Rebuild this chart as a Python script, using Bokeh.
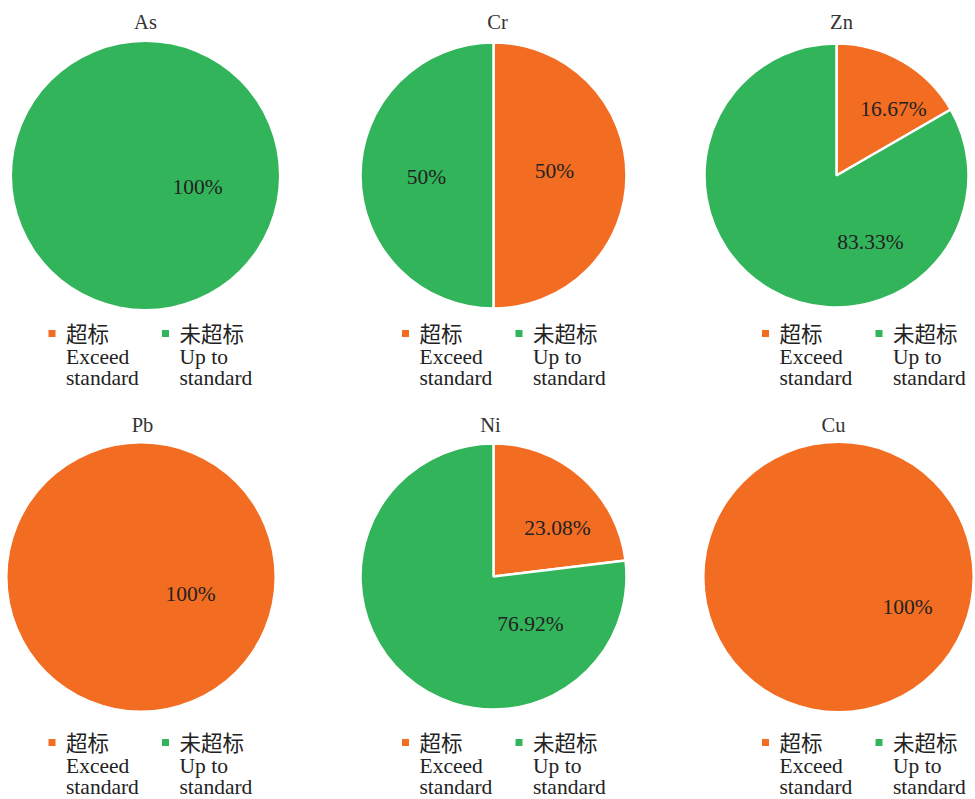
import math
from bokeh.plotting import figure
from bokeh.models import Range1d
from bokeh.core.properties import value
from bokeh.embed import file_html
from bokeh.resources import INLINE

# ---------------- data ----------------
elements = ["As", "Cr", "Zn", "Pb", "Ni", "Cu"]
exceed_pct = [0, 50, 16.67, 100, 23.08, 100]      # 超标 Exceed standard
upto_pct = [100, 50, 83.33, 0, 76.92, 0]          # 未超标 Up to standard
cat_cn = ["超标", "未超标"]
cat_en = [["Exceed", "standard"], ["Up to", "standard"]]

# ---------------- styles / layout ----------------
colors = ["#F26D22", "#32B45A"]
W, H = 975, 799
SERIF = "'Liberation Serif', serif"
CJK = "'Noto Sans CJK SC', sans-serif"
centers = [(145, 175), (493, 175), (836, 175), (140.5, 576.5), (493, 576), (838, 576.5)]
radii = [133.5, 133, 132, 133.5, 133, 134]
title_xy = [(145, 21), (497, 21), (841, 21), (142, 424), (490, 424), (833, 424)]
# label offsets (relative to pie centre), one per category
label_off = [
    [None, (52, 11)],
    [(61, -5), (-67, 1)],
    [(57, -67), (34, 66)],
    [(49.5, 16.5), None],
    [(64, -49), (37, 47)],
    [(69, 29.5), None],
]
legend_sq_x = [51.5, 405, 765, 51.5, 405, 765]
legend_y = [333, 333, 333, 742, 742, 742]
legend_gap = 113.5


def Y(y):
    return H - y


p = figure(width=W, height=H, output_backend="svg", toolbar_location=None,
           x_range=Range1d(0, W), y_range=Range1d(0, H), min_border=0)
p.axis.visible = False
p.grid.visible = False
p.outline_line_color = None
p.background_fill_color = "white"
p.border_fill_color = "white"

wx, wy, wr, ws, we, wc = [], [], [], [], [], []
fx, fy, fr, fc = [], [], [], []
tx, ty, tt = [], [], []
for i, el in enumerate(elements):
    cx, cy = centers[i]
    r = radii[i]
    vals = [exceed_pct[i], upto_pct[i]]
    total = sum(vals)
    cum = 0.0
    for k, v in enumerate(vals):
        if v <= 0:
            continue
        frac = v / total
        if frac >= 0.9999:
            fx.append(cx); fy.append(Y(cy)); fr.append(r); fc.append(colors[k])
        else:
            start = math.pi / 2 - cum * 2 * math.pi
            end = math.pi / 2 - (cum + frac) * 2 * math.pi
            wx.append(cx); wy.append(Y(cy)); wr.append(r)
            ws.append(start); we.append(end); wc.append(colors[k])
        cum += frac
        off = label_off[i][k]
        if off is not None:
            tx.append(cx + off[0]); ty.append(Y(cy + off[1])); tt.append(f"{v:g}%")

p.circle(x=fx, y=fy, radius=fr, fill_color=fc, line_color=None)
p.wedge(x=wx, y=wy, radius=wr, start_angle=ws, end_angle=we, direction="clock",
        fill_color=wc, line_color="white", line_width=2.5)

p.text(x=tx, y=ty, text=tt, text_font=value(SERIF), text_font_size="21.5px",
       text_color="#222222", text_align="center", text_baseline="middle")

# titles
p.text(x=[t[0] for t in title_xy], y=[Y(t[1]) for t in title_xy], text=elements,
       text_font=value(SERIF), text_font_size="20.5px", text_color="#333333",
       text_align="center", text_baseline="middle")

# legends
sqx, sqy, sqc = [], [], []
cnx, cny, cnt = [], [], []
enx, eny, ent = [], [], []
for i in range(len(elements)):
    for k in range(2):
        x0 = legend_sq_x[i] + k * legend_gap
        y0 = legend_y[i]
        sqx.append(x0); sqy.append(Y(y0)); sqc.append(colors[k])
        cnx.append(x0 + 14); cny.append(Y(y0 - 1)); cnt.append(cat_cn[k])
        for j, line in enumerate(cat_en[k]):
            enx.append(x0 + 14); eny.append(Y(y0 + 23.5 + j * 20.5)); ent.append(line)

p.scatter(x=sqx, y=sqy, marker="square", size=7, fill_color=sqc, line_color=None)
p.text(x=cnx, y=cny, text=cnt, text_font=value(CJK), text_font_size="21.5px",
       text_color="#222222", text_align="left", text_baseline="middle")
p.text(x=enx, y=eny, text=ent, text_font=value(SERIF), text_font_size="21.5px",
       text_color="#222222", text_align="left", text_baseline="middle")

open("out.html", "w").write(file_html(p, INLINE))
